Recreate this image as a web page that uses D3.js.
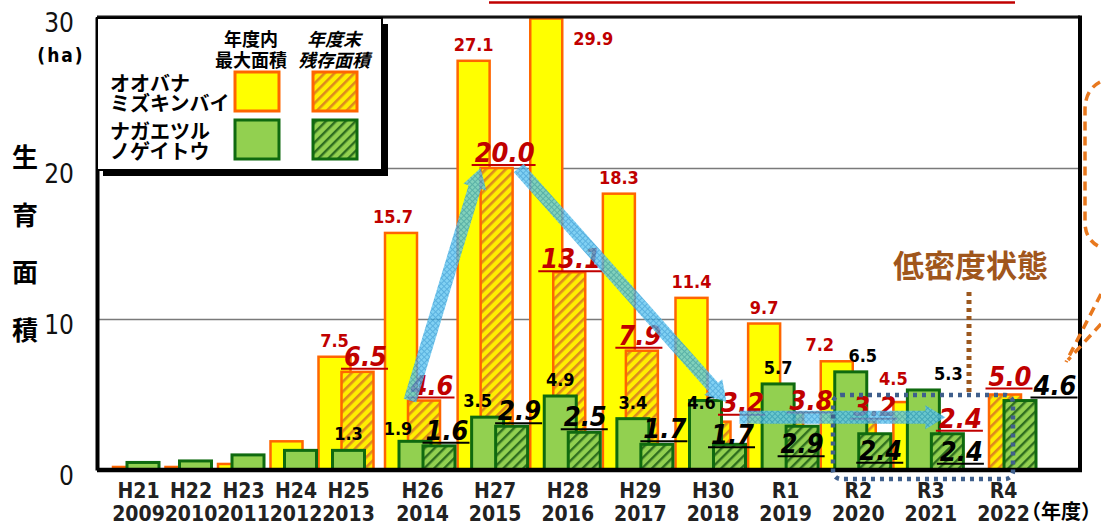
<!DOCTYPE html>
<html>
<head>
<meta charset="utf-8">
<script src="https://cdn.jsdelivr.net/npm/d3@7"></script>
<style>
  html, body { margin: 0; padding: 0; background: #fff; }
  svg { display: block; }
</style>
</head>
<body>
<div id="chart"></div>
<script>
// ---- data ----
const fiscalYears = ['H21', 'H22', 'H23', 'H24', 'H25', 'H26', 'H27', 'H28', 'H29', 'H30', 'R1', 'R2', 'R3', 'R4'];
const westernYears = ['2009', '2010', '2011', '2012', '2013', '2014', '2015', '2016', '2017', '2018', '2019', '2020', '2021', '2022'];

// オオバナミズキンバイ
const ludwigiaMax = [0.2, 0.2, 0.4, 1.9, 7.5, 15.7, 27.1, 29.9, 18.3, 11.4, 9.7, 7.2, 4.5, null];
const ludwigiaEnd = [null, null, null, null, 6.5, 4.6, 20.0, 13.1, 7.9, 3.2, 3.8, 3.2, 2.4, 5.0];
// ナガエツルノゲイトウ
const alternantheraMax = [0.5, 0.6, 1.0, 1.3, 1.3, 1.9, 3.5, 4.9, 3.4, 4.6, 5.7, 6.5, 5.3, null];
const alternantheraEnd = [null, null, null, null, null, 1.6, 2.9, 2.5, 1.7, 1.7, 2.9, 2.4, 2.4, 4.6];

const yTicks = [0, 10, 20, 30];
const firstLabeledYear = 'H25';

// ---- layout ----
const W = 1101, H = 527;
const plot = { left: 97, right: 1080, top: 17, bottom: 470 };
const barW = 32;
const NUM_FONT = '"Liberation Sans Narrow", "Arial Narrow", "DejaVu Sans Condensed", "Liberation Sans", sans-serif';
const JP_FONT = '"Noto Sans CJK JP", "Noto Sans", sans-serif';

// hand placed value labels in the original: small nudges [dx, dy]
const labelNudge = {
    'ymax:H26': [-8, 0], 'ymax:H28': [47, 36], 'ymax:R2': [-17, 0], 'ymax:R3': [-16, -7],
    'gmax:H26': [-17, 4], 'gmax:H27': [-10, 0], 'gmax:H30': [-4, 18], 'gmax:R2': [12, 0], 'gmax:R3': [25, 0],
    'yhat:H28': [-6, 2], 'yhat:H29': [-10, 0], 'yhat:H30': [20, -4], 'yhat:R1': [16, 3],
    'yhat:R2': [7, 0], 'yhat:R3': [20, 0], 'yhat:R4': [-3, -3],
    'ghat:H28': [-7, 0], 'ghat:H30': [-5, 6], 'ghat:R1': [-8, 33], 'ghat:R2': [-2, 32],
    'ghat:R3': [6, 33], 'ghat:R4': [27, 0]
};

const series = [
    { key: 'ymax', values: ludwigiaMax, offset: 0, fill: '#ffff00', stroke: '#ff6600', sw: 2.5, label: 'small', color: '#c00000' },
    { key: 'yhat', values: ludwigiaEnd, offset: 23, fill: 'url(#hatchOrange)', stroke: '#ff6600', sw: 2.5, label: 'big', color: '#c00000' },
    { key: 'gmax', values: alternantheraMax, offset: 14, fill: '#92d050', stroke: '#0f6a0f', sw: 3, label: 'small', color: '#000' },
    { key: 'ghat', values: alternantheraEnd, offset: 38, fill: 'url(#hatchGreen)', stroke: '#0f6a0f', sw: 3, label: 'big', color: '#000' }
];

const svg = d3.select('#chart').append('svg')
    .attr('width', W)
    .attr('height', H);

// ---- patterns ----
const defs = svg.append('defs');

function stripePattern(id, base, stripe, width) {
    const p = defs.append('pattern')
        .attr('id', id)
        .attr('patternUnits', 'userSpaceOnUse')
        .attr('width', 7)
        .attr('height', 7)
        .attr('patternTransform', 'rotate(45)');
    p.append('rect').attr('width', 7).attr('height', 7).attr('fill', base);
    p.append('rect').attr('width', width).attr('height', 7).attr('fill', stripe);
}
stripePattern('hatchOrange', '#ffee00', '#dc8a1e', 2.6);
stripePattern('hatchGreen', '#92d050', '#2f6e1f', 2.4);

const blue = defs.append('pattern')
    .attr('id', 'blueCross')
    .attr('patternUnits', 'userSpaceOnUse')
    .attr('width', 4)
    .attr('height', 4)
    .attr('patternTransform', 'rotate(45)');
blue.append('rect').attr('width', 4).attr('height', 4).attr('fill', '#5ec4f0');
blue.append('rect').attr('width', 1).attr('height', 4).attr('fill', '#2b9bd6');
blue.append('rect').attr('width', 4).attr('height', 1).attr('fill', '#2b9bd6');

// ---- scales ----
const idx = fiscalYears.map((d, i) => i);
const x = d3.scaleLinear()
    .domain([0, 4, 5, 13])
    .range([138, 348, 422, 1003]);

const y = d3.scaleLinear()
    .domain([0, 30])
    .range([plot.bottom, plot.top]);

function groupLeft(i) {
    const present = series.filter(s => s.values[i] != null).map(s => s.offset);
    const maxOff = d3.max(present);
    return x(i) - (maxOff + barW) / 2 - 2;
}
function barX(s, i) {
    return groupLeft(i) + s.offset;
}

// ---- grid ----
svg.append('g')
    .attr('transform', `translate(${plot.left},0)`)
    .call(d3.axisLeft(y).tickValues([10, 20, 30]).tickSize(-(plot.right - plot.left)).tickFormat(''))
    .call(g => g.select('.domain').remove())
    .selectAll('line')
    .attr('stroke', '#7a7a7a')
    .attr('stroke-width', 1.3);

// ---- bars ----
series.forEach(s => {
    svg.append('g')
        .selectAll('rect')
        .data(idx.filter(i => s.values[i] != null))
        .join('rect')
        .attr('x', i => barX(s, i))
        .attr('y', i => y(s.values[i]))
        .attr('width', barW)
        .attr('height', i => y(0) - y(s.values[i]))
        .attr('fill', s.fill)
        .attr('stroke', s.stroke)
        .attr('stroke-width', s.sw);
});

// ---- frame / axes ----
svg.append('line')
    .attr('x1', plot.left).attr('x2', plot.right)
    .attr('y1', plot.top).attr('y2', plot.top)
    .attr('stroke', '#111').attr('stroke-width', 3);
svg.append('line')
    .attr('x1', plot.right).attr('x2', plot.right)
    .attr('y1', plot.top - 1.5).attr('y2', plot.bottom)
    .attr('stroke', '#000').attr('stroke-width', 4);
svg.append('line')
    .attr('x1', plot.left).attr('x2', plot.right + 2)
    .attr('y1', plot.bottom).attr('y2', plot.bottom)
    .attr('stroke', '#000').attr('stroke-width', 4.5);

const yAxis = svg.append('g')
    .attr('transform', `translate(${plot.left},0)`)
    .call(d3.axisLeft(y).tickValues(yTicks).tickSize(0).tickPadding(23).tickFormat(d3.format('d')));
yAxis.select('.domain')
    .attr('stroke', '#000')
    .attr('stroke-width', 4);
yAxis.selectAll('text')
    .attr('dy', '0.55em')
    .style('font-family', NUM_FONT)
    .style('font-size', '26px')
    .style('fill', '#111');

svg.append('text')
    .attr('x', 61).attr('y', 62)
    .attr('text-anchor', 'middle')
    .style('font-family', NUM_FONT)
    .style('font-size', '19px')
    .style('font-weight', '700')
    .style('letter-spacing', '2px')
    .text('(ha)');

['生', '育', '面', '積'].forEach((c, i) => {
    svg.append('text')
        .attr('x', 25)
        .attr('y', 167 + i * 57.5)
        .attr('text-anchor', 'middle')
        .style('font-family', JP_FONT)
        .style('font-size', '26px')
        .style('font-weight', '700')
        .text(c);
});

const xAxis = svg.append('g')
    .attr('transform', `translate(0,${plot.bottom})`)
    .call(d3.axisBottom(x).tickValues(idx).tickSize(0).tickPadding(0).tickFormat(''));
xAxis.select('.domain').remove();
xAxis.selectAll('.tick text')
    .attr('y', 0)
    .attr('dy', null)
    .style('font-family', NUM_FONT)
    .style('font-size', '21px')
    .style('font-weight', '700')
    .style('fill', '#222')
    .each(function(i) {
        const t = d3.select(this);
        t.append('tspan').attr('x', 0).attr('y', 28).text(fiscalYears[i]);
        t.append('tspan').attr('x', 0).attr('y', 51).text(westernYears[i]);
    });

svg.append('text')
    .attr('x', 1101).attr('y', 519)
    .attr('text-anchor', 'end')
    .style('font-family', JP_FONT)
    .style('font-size', '20px')
    .style('font-weight', '700')
    .text('（年度）');

// ---- trend arrows ----
const yhat = series[1];
function arrowPath(t, p) {
    const dx = p[0] - t[0], dy = p[1] - t[1];
    const len = Math.hypot(dx, dy);
    const ux = dx / len, uy = dy / len, nx = -uy, ny = ux;
    const w = 6.5, hw = 12, hl = 20;
    const b = [p[0] - ux * hl, p[1] - uy * hl];
    const pts = [
        [t[0] + nx * w, t[1] + ny * w], [b[0] + nx * w, b[1] + ny * w], [b[0] + nx * hw, b[1] + ny * hw],
        p, [b[0] - nx * hw, b[1] - ny * hw], [b[0] - nx * w, b[1] - ny * w], [t[0] - nx * w, t[1] - ny * w]
    ];
    return d3.line()(pts) + 'Z';
}
const arrows = [
    [[barX(yhat, 5) + 2, y(ludwigiaEnd[5])], [barX(yhat, 6), y(ludwigiaEnd[6])]],
    [[barX(yhat, 6) + barW + 6, y(ludwigiaEnd[6])], [barX(yhat, 9) + barW - 4, y(4.5)]],
    [[barX(yhat, 9) + barW + 9, y(3.5)], [barX(yhat, 12) + barW - 3, y(3.5)]]
];

// ---- value labels ----
const firstLabeled = fiscalYears.indexOf(firstLabeledYear);
const labelLayer = svg.append('g');
series.forEach(s => {
    idx.filter(i => s.values[i] != null && i >= firstLabeled).forEach(i => {
        const v = s.values[i];
        const nudge = labelNudge[`${s.key}:${fiscalYears[i]}`] || [0, 0];
        const cx = barX(s, i) + barW / 2;
        const top = y(v);
        if (s.label === 'small') {
            labelLayer.append('text')
                .attr('x', cx + nudge[0])
                .attr('y', top - 10 + nudge[1])
                .attr('text-anchor', 'middle')
                .style('font-family', NUM_FONT)
                .style('font-size', '18px')
                .style('font-weight', '700')
                .style('fill', s.color)
                .text(v.toFixed(1));
        } else {
            const tx = cx + 8 + nudge[0];
            const ty = top - 6 + nudge[1];
            const t = labelLayer.append('text')
                .attr('x', tx)
                .attr('y', ty)
                .attr('text-anchor', 'middle')
                .style('font-family', NUM_FONT)
                .style('font-size', '27px')
                .style('font-weight', '700')
                .style('font-style', 'italic')
                .style('fill', s.color)
                .text(v.toFixed(1));
            const w = t.node().getComputedTextLength();
            labelLayer.append('line')
                .attr('x1', tx - w / 2 - 3).attr('x2', tx + w / 2 + 1)
                .attr('y1', ty + 3).attr('y2', ty + 3)
                .attr('stroke', s.color)
                .attr('stroke-width', 2);
        }
    });
});

svg.append('g')
    .selectAll('path')
    .data(arrows)
    .join('path')
    .attr('d', d => arrowPath(d[0], d[1]))
    .attr('fill', 'url(#blueCross)')
    .attr('opacity', 0.78);

// ---- annotations ----
svg.append('line')
    .attr('x1', 489).attr('x2', 1015)
    .attr('y1', 2.5).attr('y2', 2.5)
    .attr('stroke', '#c00000').attr('stroke-width', 2.5);

svg.append('text')
    .attr('x', 893).attr('y', 277)
    .style('font-family', JP_FONT)
    .style('font-size', '31px')
    .style('font-weight', '700')
    .style('fill', '#a0561c')
    .text('低密度状態');

svg.append('line')
    .attr('x1', 969).attr('x2', 969)
    .attr('y1', 292).attr('y2', 392)
    .attr('stroke', '#9c581e').attr('stroke-width', 5)
    .attr('stroke-dasharray', '4,4');

svg.append('rect')
    .attr('x', 833).attr('y', 395)
    .attr('width', 180).attr('height', 84)
    .attr('rx', 8)
    .attr('fill', 'none')
    .attr('stroke', '#3f5f8c').attr('stroke-width', 4.5)
    .attr('stroke-dasharray', '4,5');

const orangeDash = svg.append('g')
    .attr('fill', 'none')
    .attr('stroke', '#e8781e')
    .attr('stroke-width', 3.5)
    .attr('stroke-dasharray', '9,6');
orangeDash.append('path').attr('d', 'M1100,82 Q1085,90 1085,110 L1085,222 Q1085,240 1100,247');
orangeDash.append('path').attr('d', 'M1101,294 L1066,362');
orangeDash.append('path').attr('d', 'M1101,324 L1068,360');

// ---- legend ----
const legend = svg.append('g');
legend.append('rect')
    .attr('x', 103).attr('y', 24)
    .attr('width', 285).attr('height', 152)
    .attr('fill', '#000');
legend.append('rect')
    .attr('x', 97).attr('y', 18)
    .attr('width', 285).attr('height', 152)
    .attr('fill', '#fff')
    .attr('stroke', '#000')
    .attr('stroke-width', 2);

const headers = [
    { cx: 251, lines: ['年度内', '最大面積'], italic: false },
    { cx: 334, lines: ['年度末', '残存面積'], italic: true }
];
headers.forEach(h => {
    h.lines.forEach((l, j) => {
        legend.append('text')
            .attr('x', h.cx).attr('y', 46 + j * 21)
            .attr('text-anchor', 'middle')
            .style('font-family', JP_FONT)
            .style('font-size', '18px')
            .style('font-weight', '700')
            .style('font-style', h.italic ? 'italic' : 'normal')
            .text(l);
    });
});

const legendRows = [
    { lines: ['オオバナ', 'ミズキンバイ'], y: 72, max: series[0], end: series[1] },
    { lines: ['ナガエツル', 'ノゲイトウ'], y: 120, max: series[2], end: series[3] }
];
legendRows.forEach(r => {
    r.lines.forEach((l, j) => {
        legend.append('text')
            .attr('x', 110).attr('y', r.y + 19 + j * 20)
            .style('font-family', JP_FONT)
            .style('font-size', '20px')
            .style('font-weight', '700')
            .text(l);
    });
    [[r.max, 235], [r.end, 313]].forEach(([s, lx]) => {
        legend.append('rect')
            .attr('x', lx).attr('y', r.y)
            .attr('width', 44).attr('height', 39)
            .attr('fill', s.fill)
            .attr('stroke', s.stroke)
            .attr('stroke-width', 3);
    });
});
</script>
</body>
</html>
